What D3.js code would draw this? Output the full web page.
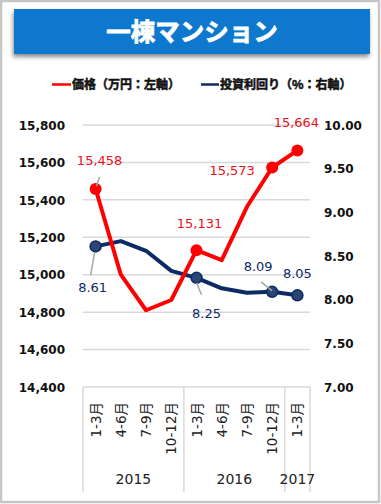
<!DOCTYPE html>
<html><head><meta charset="utf-8">
<script src="https://cdn.jsdelivr.net/npm/d3@7"></script>
<style>
html,body{margin:0;padding:0;background:#fff;}
svg{display:block;}
</style></head>
<body>
<svg id="chart" width="381" height="504"></svg>
<script>
const title = "一棟マンション";
const quarters = ["1-3月","4-6月","7-9月","10-12月","1-3月","4-6月","7-9月","10-12月","1-3月"];
const years = ["2015","2016","2017"];
const yearCounts = [4,4,1];
const priceName = "価格（万円：左軸）";
const yieldName = "投資利回り（%：右軸）";
const price = [15458,15000,14810,14865,15131,15078,15363,15573,15664];
const yieldPct = [8.61,8.67,8.56,8.33,8.25,8.13,8.08,8.09,8.05];
const leftTicks = [14400,14600,14800,15000,15200,15400,15600,15800];
const rightTicks = [7.00,7.50,8.00,8.50,9.00,9.50,10.00];
const markedIdx = [0,4,7,8];

const svg = d3.select("#chart");
const W=381,H=504;
const red="#ff0000", navy="#0c2b64", grid="#d9d9d9";
const fontLat = "'DejaVu Sans','Noto Sans CJK JP',sans-serif";
const fontJP = "'Noto Sans CJK JP','DejaVu Sans',sans-serif";

// frame
svg.append("rect").attr("x",1).attr("y",1).attr("width",W-3).attr("height",H-3)
  .attr("fill","#fff").attr("stroke","#c6c6c6").attr("stroke-width",2.5);

// title with shadow
const defs = svg.append("defs");
const f = defs.append("filter").attr("id","sh").attr("x","-10%").attr("y","-20%").attr("width","120%").attr("height","160%");
f.append("feDropShadow").attr("dx",-1).attr("dy",3).attr("stdDeviation",2).attr("flood-color","#000").attr("flood-opacity",0.45);
svg.append("rect").attr("x",14).attr("y",9).attr("width",356).attr("height",45)
  .attr("fill","#0a78cd").attr("filter","url(#sh)");
svg.append("text").attr("x",192).attr("y",40.5).attr("text-anchor","middle")
  .attr("fill","#fff").attr("stroke","#fff").attr("stroke-width",0.8)
  .attr("font-family",fontJP).attr("font-weight","bold")
  .attr("font-size",24.5).text(title);

// legend
const leg = [{name:priceName,c:red,x1:52,x2:71},{name:yieldName,c:navy,x1:201,x2:219}];
leg.forEach(l=>{
  svg.append("line").attr("x1",l.x1).attr("x2",l.x2).attr("y1",84.5).attr("y2",84.5)
    .attr("stroke",l.c).attr("stroke-width",2.5);
  svg.append("text").attr("x",l.x2+1).attr("y",89).attr("font-family",fontJP)
    .attr("font-weight","bold").attr("font-size",12).attr("fill","#111")
    .attr("stroke","#111").attr("stroke-width",0.5).text(l.name);
});

// scales
const x0=83,x1=310,yTop=125,yBot=387;
const x = d3.scaleBand().domain(d3.range(quarters.length)).range([x0,x1]);
const yL = d3.scaleLinear().domain([14400,15800]).range([yBot,yTop]);
const yR = d3.scaleLinear().domain([7,10]).range([yBot,yTop]);
const cx = i => x(i)+x.bandwidth()/2;

// gridlines
svg.append("g").selectAll("line").data(leftTicks).join("line")
  .attr("x1",x0).attr("x2",x1).attr("y1",d=>yL(d)).attr("y2",d=>yL(d))
  .attr("stroke",grid).attr("stroke-width",1.5);

// left axis labels
const axL = d3.axisLeft(yL).tickValues(leftTicks).tickFormat(d3.format(",")).tickSize(0).tickPadding(0);
const gL = svg.append("g").attr("transform","translate(65,0)").call(axL);
gL.select(".domain").remove();
gL.selectAll("text").attr("font-family",fontLat).attr("font-weight","bold")
  .attr("font-size",12).attr("fill","#111").attr("dy","0.35em");

// right axis labels
const axR = d3.axisRight(yR).tickValues(rightTicks).tickFormat(d3.format(".2f")).tickSize(0).tickPadding(0);
const gR = svg.append("g").attr("transform","translate(324,0)").call(axR);
gR.select(".domain").remove();
gR.selectAll("text").attr("font-family",fontLat).attr("font-weight","bold")
  .attr("font-size",12).attr("fill","#111").attr("dy","0.35em");

// x axis multi-level box
const boxBottom = 492;
let acc=0; const bounds=[0];
yearCounts.forEach(c=>{acc+=c; bounds.push(acc);});
svg.append("g").selectAll("line").data(bounds).join("line")
  .attr("x1",i=> i<quarters.length? x(i): x1).attr("x2",i=> i<quarters.length? x(i): x1)
  .attr("y1",yBot).attr("y2",boxBottom).attr("stroke",grid).attr("stroke-width",1.5);

svg.append("g").selectAll("text").data(quarters).join("text")
  .attr("transform",(d,i)=>`translate(${cx(i)+5},402) rotate(-90)`)
  .attr("text-anchor","end").attr("font-family",fontLat).attr("font-size",13.5)
  .attr("fill","#222").text(d=>d);

svg.append("g").selectAll("text").data(years).join("text")
  .attr("x",(d,i)=>{const a=x(bounds[i]); const b= bounds[i+1]<quarters.length? x(bounds[i+1]) : x1; return (a+b)/2;})
  .attr("y",484).attr("text-anchor","middle").attr("font-family",fontLat)
  .attr("font-size",14).attr("fill","#222").text(d=>d);

// lines
const lineL = d3.line().x((d,i)=>cx(i)).y(d=>yL(d));
const lineR = d3.line().x((d,i)=>cx(i)).y(d=>yR(d));
svg.append("path").attr("d",lineR(yieldPct)).attr("fill","none").attr("stroke",navy)
  .attr("stroke-width",4).attr("stroke-linejoin","round");
svg.append("path").attr("d",lineL(price)).attr("fill","none").attr("stroke",red)
  .attr("stroke-width",4).attr("stroke-linejoin","round");

// markers
svg.append("g").selectAll("circle").data(markedIdx).join("circle")
  .attr("cx",i=>cx(i)).attr("cy",i=>yR(yieldPct[i])).attr("r",5.5)
  .attr("fill","#2a4575").attr("stroke",navy).attr("stroke-width",1.5);
svg.append("g").selectAll("circle").data(markedIdx).join("circle")
  .attr("cx",i=>cx(i)).attr("cy",i=>yL(price[i])).attr("r",6)
  .attr("fill",red);

// data labels with leader lines
const fmtP = d3.format(","), fmtY = d3.format(".2f");
const lbl = [
  {s:"p",i:0,dx:4,dy:-29,lead:[4,-12,1,-3]},
  {s:"p",i:4,dx:3,dy:-27,lead:null},
  {s:"p",i:7,dx:-40,dy:3,lead:null},
  {s:"p",i:8,dx:-1,dy:-28,lead:null},
  {s:"y",i:0,dx:-3,dy:41,lead:[-1,6,-5,29]},
  {s:"y",i:4,dx:10,dy:36,lead:[0,5,5,17]},
  {s:"y",i:7,dx:-14,dy:-25,lead:[-11,-10,0,-1]},
  {s:"y",i:8,dx:0,dy:-22,lead:null}
];
lbl.forEach(l=>{
  const px=cx(l.i), py= l.s==="p"? yL(price[l.i]) : yR(yieldPct[l.i]);
  if(l.lead){
    svg.append("line").attr("x1",px+l.lead[0]).attr("y1",py+l.lead[1])
      .attr("x2",px+l.lead[2]).attr("y2",py+l.lead[3])
      .attr("stroke","#a6a6a6").attr("stroke-width",1.5);
  }
  svg.append("text").attr("x",px+l.dx).attr("y",py+l.dy).attr("dy","0.35em")
    .attr("text-anchor","middle").attr("font-family",fontLat).attr("font-size",13)
    .attr("fill", l.s==="p"? "#e8111b" : navy)
    .text(l.s==="p"? fmtP(price[l.i]) : fmtY(yieldPct[l.i]));
});
</script>
</body></html>
